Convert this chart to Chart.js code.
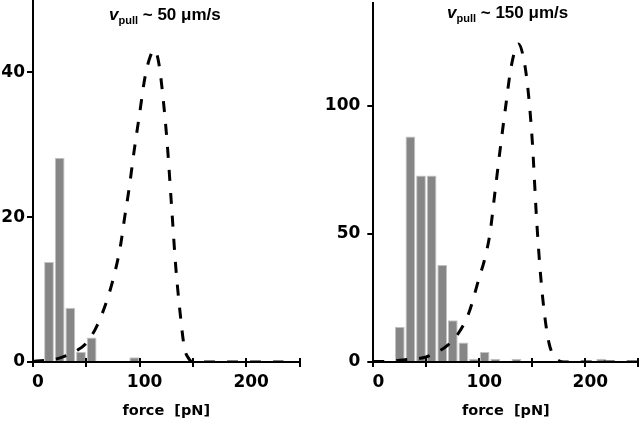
<!DOCTYPE html>
<html>
<head>
<meta charset="utf-8">
<script src="https://cdn.jsdelivr.net/npm/chart.js@4"></script>
<style>
  body { margin: 0; background: #fff; }
  #wrap { position: relative; width: 640px; height: 423px; overflow: hidden; }
  canvas { position: absolute; top: 0; }
  .ttl { position: absolute; font: bold 17px 'Liberation Sans', Arial, sans-serif; line-height: 20px; white-space: nowrap; color: #000; }
  .ttl sub { font-size: 11px; vertical-align: -4px; line-height: 0; }
</style>
</head>
<body>
<div id="wrap">
  <canvas id="left" width="320" height="423" style="left:0"></canvas>
  <canvas id="right" width="320" height="423" style="left:320px"></canvas>
  <div class="ttl" style="left:109px; top:5px"><i>v</i><sub>pull</sub> ~ 50 μm/s</div>
  <div class="ttl" style="left:447px; top:3px"><i>v</i><sub>pull</sub> ~ 150 μm/s</div>
</div>
<script>
// histogram bins (centre of 10 pN bins) and counts
var left_bins = [15, 25, 35, 45, 55, 95];
var left_counts = [13.8, 28.2, 7.5, 1.4, 3.4, 0.65];
var right_bins = [25, 35, 45, 55, 65, 75, 85, 95, 105, 115, 135, 215];
var right_counts = [13.7, 87.9, 72.7, 72.7, 37.8, 16.3, 7.6, 1.3, 3.9, 1.3, 1.3, 1.3];

// dashed model curves
var left_curve_x = [0, 10, 20, 30, 40, 50, 60, 70, 77, 82, 86, 90, 95, 100, 105, 110, 114, 118, 122, 126, 130, 134, 138, 142, 146, 150, 160, 180, 200, 220, 235];
var left_curve_y = [0.1, 0.2, 0.35, 0.8, 1.5, 2.6, 5, 8.8, 12.5, 16, 20, 23.8, 29.3, 34.3, 39.3, 42.2, 43.1, 41.3, 36.5, 30, 21.5, 13, 6.8, 2, 0.5, 0, 0, 0, 0, 0, 0];
var right_curve_x = [0, 10, 20, 30, 40, 50, 60, 70, 80, 90, 100, 105, 110, 115, 120, 125, 130, 137, 142, 146, 150, 154, 158, 162, 166, 170, 175, 180, 200, 220, 250];
var right_curve_y = [0.2, 0.2, 0.5, 0.9, 1.2, 2, 3.8, 6.5, 11, 19, 33, 40, 50, 67, 84, 100, 115, 124, 118, 106, 86, 56, 33, 17, 7, 2.5, 0.5, 0, 0, 0, 0];

var x_ticks = [0, 50, 100, 150, 200, 250];

Chart.defaults.font.family = "'DejaVu Sans', sans-serif";
Chart.defaults.font.weight = 'bold';
Chart.defaults.color = '#000';

// little tick stubs above the x axis line
var cross_ticks = {
  id: 'cross_ticks',
  afterDraw: function (chart) {
    var ctx = chart.ctx, sc = chart.scales.x;
    ctx.save();
    ctx.strokeStyle = '#000';
    ctx.lineWidth = 2;
    sc.ticks.forEach(function (t) {
      var px = Math.round(sc.getPixelForValue(t.value));
      ctx.beginPath();
      ctx.moveTo(px, sc.top);
      ctx.lineTo(px, sc.top - 4);
      ctx.stroke();
    });
    ctx.restore();
  }
};

function create_panel (canvas_id, bins, counts, cx, cy, y_max, y_step, y_width, y_pad, pad) {
  var ctx = document.getElementById(canvas_id).getContext('2d');

  var bars = bins.map(function (b, i) { return {x: b, y: counts[i]}; });
  var curve = cx.map(function (x, i) { return {x: x, y: cy[i]}; });

  return new Chart(ctx, {
    type: 'bar',
    data: {
      datasets: [{
        type: 'line',
        data: curve,
        borderColor: '#000',
        borderWidth: 3,
        borderDash: [11, 12],
        pointRadius: 0,
        fill: false,
        cubicInterpolationMode: 'monotone'
      }, {
        type: 'bar',
        data: bars,
        backgroundColor: '#868686',
        borderColor: '#c4c4c4',
        borderWidth: 1,
        barPercentage: 0.92,
        categoryPercentage: 1
      }]
    },
    options: {
      responsive: false,
      animation: false,
      layout: { padding: pad },
      plugins: { legend: { display: false }, tooltip: { enabled: false } },
      scales: {
        x: {
          type: 'linear',
          min: 0, max: 250,
          offset: false,
          afterBuildTicks: function (axis) { axis.ticks = x_ticks.map(function (v) { return {value: v}; }); },
          afterFit: function (s) { s.height = 61; s.paddingLeft = 0; s.paddingRight = 0; },
          border: { display: true, color: '#000', width: 2 },
          grid: { offset: false, drawOnChartArea: false, drawTicks: true, tickLength: 5, color: '#000', lineWidth: 2 },
          ticks: {
            font: { size: 17, weight: 'bold' },
            padding: 5,
            labelOffset: 5,
            maxRotation: 0,
            autoSkip: false,
            callback: function (v) { return v % 100 === 0 ? v : ''; }
          },
          title: { display: true, text: 'force  [pN]', font: { size: 14.5, weight: 'bold' }, padding: { top: 0, bottom: 3 } }
        },
        y: {
          min: 0, max: y_max,
          afterBuildTicks: function (axis) {
            axis.ticks = axis.ticks.filter(function (t) { return t.value % y_step === 0; });
          },
          afterFit: function (s) { s.width = y_width; s.paddingTop = 0; s.paddingBottom = 0; },
          border: { display: true, color: '#000', width: 2 },
          grid: { drawOnChartArea: false, drawTicks: true, tickLength: 6, color: '#000', lineWidth: 2 },
          ticks: { stepSize: y_step, font: { size: 17, weight: 'bold' }, padding: y_pad }
        }
      }
    },
    plugins: [cross_ticks]
  });
}

create_panel('left', left_bins, left_counts, left_curve_x, left_curve_y, 50, 20, 33, 2,
  { top: 0, right: 20.5, left: 0, bottom: 0 });
create_panel('right', right_bins, right_counts, right_curve_x, right_curve_y, 140, 50, 53.3, 7,
  { top: 3, right: 1.7, left: 0, bottom: 0 });
</script>
</body>
</html>
